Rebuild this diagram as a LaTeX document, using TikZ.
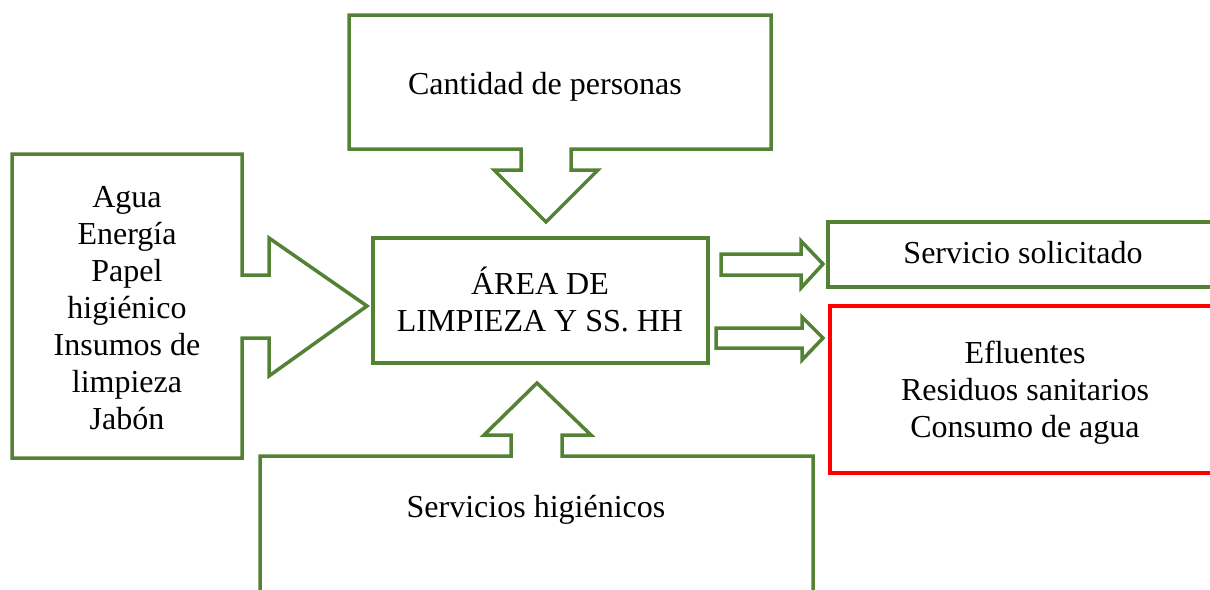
\documentclass[tikz,border=0pt]{standalone}
\usepackage{fontspec}
\setmainfont{Liberation Serif}
\definecolor{dgreen}{RGB}{84,130,53}
\definecolor{dred}{RGB}{255,0,0}
\begin{document}
\begin{tikzpicture}[x=1pt,y=-1pt,
  gbox/.style={draw=dgreen,line width=3.5pt,line join=miter},
  rbox/.style={draw=dred,line width=3.5pt},
  lbl/.style={inner sep=0pt,align=center,font=\fontsize{32}{37}\selectfont,anchor=base}]
\useasboundingbox (0,0) rectangle (1210,589);
\clip (0,0) rectangle (1210,589);
% top callout
\draw[gbox] (349,15) -- (771,15) -- (771,149) -- (571,149) -- (571,170) -- (598,170) -- (546,222) -- (494,170) -- (521,170) -- (521,149) -- (349,149) -- cycle;
% left callout
\draw[gbox] (12,154) -- (242,154) -- (242,275) -- (269,275) -- (269,238) -- (367,306) -- (269,376) -- (269,338) -- (242,338) -- (242,458) -- (12,458) -- cycle;
% center
\draw[gbox] (373,238) rectangle (708,363);
% bottom callout
\draw[gbox] (260,620) -- (260,456) -- (511,456) -- (511,435) -- (484,435) -- (537,383) -- (591,435) -- (562,435) -- (562,456) -- (813,456) -- (813,620);
% right arrows
\draw[gbox] (721,254) -- (801,254) -- (801,241) -- (823,264) -- (801,288) -- (801,275) -- (721,275) -- cycle;
\draw[gbox] (716,328) -- (802,328) -- (802,317) -- (823,338) -- (802,360) -- (802,348) -- (716,348) -- cycle;
% output boxes
\draw[gbox] (828,222) rectangle (1240,287);
\draw[rbox] (830,306) rectangle (1240,473);
% texts
\node[lbl] (cant) at (545,94) {Cantidad de personas};
\node[lbl] (insumos) at (127,429) {Agua\\Energía\\Papel\\higiénico\\Insumos de\\limpieza\\Jabón};
\node[lbl] (area) at (540,331) {ÁREA DE\\LIMPIEZA Y SS. HH};
\node[lbl] (serv) at (1023,263) {Servicio solicitado};
\node[lbl] (eflu) at (1025,437) {Efluentes\\Residuos sanitarios\\Consumo de agua};
\node[lbl] (sshh) at (536,517) {Servicios higiénicos};
\end{tikzpicture}
\end{document}
